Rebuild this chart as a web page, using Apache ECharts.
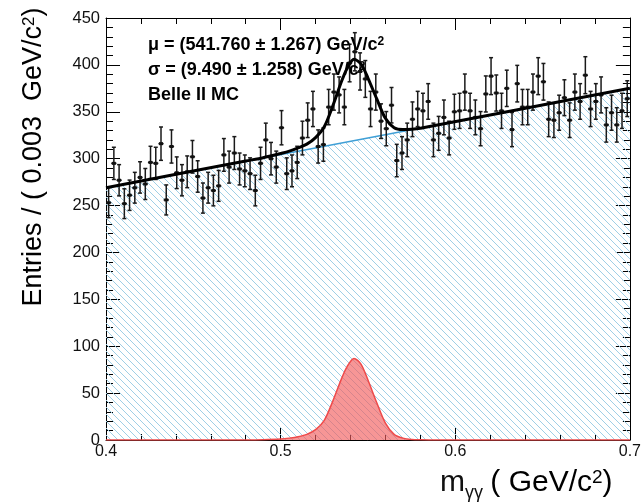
<!DOCTYPE html>
<html><head><meta charset="utf-8">
<script src="https://cdn.jsdelivr.net/npm/echarts@6/dist/echarts.min.js"></script>
<style>html,body{margin:0;padding:0;background:#fff}#c{width:644px;height:502px}</style>
</head><body><div id="c"></div>
<script>
// Histogram: 100 bins of 0.003 GeV/c^2 from 0.4 to 0.7
const binLow = 0.4;
const binWidth = 0.003;
const counts = [
 253,295,277,252,261,269,280,273,296,295,
 316,256,313,285,277,286,302,281,258,269,
 266,271,304,291,306,289,287,284,266,295,
 320,300,291,333,284,287,296,322,341,353,
 313,315,355,371,368,355,402,414,393,385,
 353,371,340,332,357,298,306,320,342,353,
 351,361,320,327,344,322,350,351,371,351,
 344,332,369,388,370,351,375,331,380,355,
 355,371,388,382,342,341,349,365,341,371,
 361,389,353,361,368,336,349,336,351,364
];
// Background (linear) fit line, read at the ends
const bgX = [0.4, 0.7];
const bgY = [269, 375];
// Signal PDF (red)
const sigX = [0.40,0.48,0.49,0.50,0.505,0.51,0.515,0.52,0.525,0.53,0.535,0.538,0.542,0.546,0.55,0.555,0.56,0.565,0.57,0.575,0.58,0.59,0.70];
const sigY = [0,0.1,0.3,1,2,3.5,6,11,21,42,66,78,87,81,64,40,18,6,2,0.6,0.2,0,0];
// Total fit curve (black)
const totX = [0.40,0.48,0.49,0.50,0.505,0.51,0.515,0.52,0.525,0.53,0.535,0.538,0.542,0.546,0.55,0.555,0.56,0.565,0.57,0.575,0.58,0.70];
const totY = [269,297.5,301,305.5,308,311.5,315.5,322.5,334,357,383,396,406,401,386,364,343,333,331,331.4,332.5,375];
const xTickLabels = ['0.4','0.5','0.6','0.7'];
const yTickLabels = ['0','50','100','150','200','250','300','350','400','450'];

function hatchCanvas(){
  const s = 7;
  const c = document.createElement('canvas');
  c.width = s; c.height = s;
  const g = c.getContext('2d');
  g.strokeStyle = '#9fcfe6';
  g.lineWidth = 1;
  g.beginPath();
  g.moveTo(-1,-1); g.lineTo(s+1,s+1);
  g.moveTo(-1,s-1); g.lineTo(1,s+1);
  g.moveTo(s-1,-1); g.lineTo(s+1,1);
  g.stroke();
  return c;
}

const zip = (a,b) => a.map((v,i)=>[v,b[i]]);
const points = counts.map((c,i)=>[binLow + (i+0.5)*binWidth, c, Math.sqrt(c)]);
const FONT = '"Liberation Sans", Arial, Helvetica, sans-serif';

const chart = echarts.init(document.getElementById('c'), null, {renderer:'canvas'});
const axisCommon = {
  axisLine:{show:true, onZero:false, lineStyle:{color:'#000', width:1}},
  splitLine:{show:false}, minorSplitLine:{show:false}
};
const boldRich = {
  a:{fontFamily:FONT, fontWeight:'bold', fontSize:18, color:'#111'},
  s:{fontFamily:FONT, fontWeight:'bold', fontSize:12, color:'#111', verticalAlign:'top'}
};
chart.setOption({
  animation:false,
  backgroundColor:'#fff',
  grid:{left:106, right:14, top:18, bottom:62, containLabel:false},
  xAxis:[
    Object.assign({}, axisCommon, {type:'value', position:'bottom', min:0.4, max:0.7, interval:0.1,
      axisTick:{show:true, inside:true, length:12, lineStyle:{color:'#000'}},
      minorTick:{show:true, splitNumber:5, length:6, lineStyle:{color:'#000'}},
      axisLabel:{show:true, fontSize:16, color:'#111', fontFamily:FONT, margin:4,
        formatter:(v)=>{const s=v.toFixed(1); return xTickLabels.indexOf(s)>=0?s:'';}}}),
    Object.assign({}, axisCommon, {type:'value', position:'top', min:0.4, max:0.7, interval:0.1,
      axisTick:{show:true, inside:true, length:12, lineStyle:{color:'#000'}},
      minorTick:{show:true, splitNumber:5, length:6, lineStyle:{color:'#000'}},
      axisLabel:{show:false}})
  ],
  yAxis:[
    Object.assign({}, axisCommon, {type:'value', position:'left', min:0, max:450, interval:50,
      axisTick:{show:true, inside:true, length:14, lineStyle:{color:'#000'}},
      minorTick:{show:true, splitNumber:5, length:7, lineStyle:{color:'#000'}},
      axisLabel:{show:true, fontSize:16.5, color:'#111', fontFamily:FONT, margin:6,
        formatter:(v)=>{const s=String(Math.round(v)); return yTickLabels.indexOf(s)>=0?s:'';}}}),
    Object.assign({}, axisCommon, {type:'value', position:'right', min:0, max:450, interval:50,
      axisTick:{show:true, inside:true, length:14, lineStyle:{color:'#000'}},
      minorTick:{show:true, splitNumber:5, length:7, lineStyle:{color:'#000'}},
      axisLabel:{show:false}})
  ],
  series:[
    {type:'line', name:'bkg', data:zip(bgX,bgY), showSymbol:false, silent:true, z:1,
      lineStyle:{color:'#3f9fd6', width:1.5},
      areaStyle:{color:{image:hatchCanvas(), repeat:'repeat'}, opacity:1}},
    {type:'line', name:'sig', data:zip(sigX,sigY), showSymbol:false, silent:true, z:2, smooth:0.3,
      lineStyle:{color:'#ee4a4a', width:1.5},
      areaStyle:{color:'rgba(242,92,92,0.92)'}},
    {type:'custom', name:'data', data:points, silent:true, z:3,
      renderItem:(params, api)=>{
        const x = api.value(0), y = api.value(1), e = api.value(2);
        const p = api.coord([x,y]);
        const t = api.coord([x,y+e]), b = api.coord([x,y-e]);
        const l = api.coord([x-binWidth/2,y]), r = api.coord([x+binWidth/2,y]);
        const st = {stroke:'#1a1a1a', lineWidth:1.5};
        return {type:'group', children:[
          {type:'line', shape:{x1:p[0],y1:t[1],x2:p[0],y2:b[1]}, style:st},
          {type:'line', shape:{x1:p[0]-2,y1:t[1],x2:p[0]+2,y2:t[1]}, style:st},
          {type:'line', shape:{x1:p[0]-2,y1:b[1],x2:p[0]+2,y2:b[1]}, style:st},
          {type:'line', shape:{x1:l[0],y1:p[1],x2:r[0],y2:p[1]}, style:st},
          {type:'rect', shape:{x:p[0]-2,y:p[1]-1.5,width:4,height:3}, style:{fill:'#111'}}
        ]};
      }},
    {type:'line', name:'total', data:zip(totX,totY), showSymbol:false, silent:true, z:4, smooth:0.3,
      lineStyle:{color:'#000', width:3}}
  ],
  graphic:[
    {type:'text', x:148, y:45, z:10, style:{text:'{a|μ = (541.760 ± 1.267) GeV/c}{s|2}', rich:boldRich, verticalAlign:'middle'}},
    {type:'text', x:148, y:70, z:10, style:{text:'{a|σ = (9.490 ± 1.258) GeV/c}{s|2}', rich:boldRich, verticalAlign:'middle'}},
    {type:'text', x:148, y:95, z:10, style:{text:'{a|Belle II MC}', rich:boldRich, verticalAlign:'middle'}},
    {type:'text', x:34, y:157, rotation:Math.PI/2, style:{text:'{a|Entries / ( 0.003  GeV/c}{s|2}{a|)}', align:'center', verticalAlign:'middle',
      rich:{a:{fontFamily:FONT, fontSize:27, color:'#111'}, s:{fontFamily:FONT, fontSize:17, color:'#111', verticalAlign:'top'}}}},
    {type:'text', x:440, y:483, style:{text:'m', font:'30px '+FONT, fill:'#111', verticalAlign:'middle'}},
    {type:'text', x:465, y:493, style:{text:'γγ', font:'18px '+FONT, fill:'#111', verticalAlign:'middle'}},
    {type:'text', x:482, y:483, style:{text:'{a| ( GeV/c}{s|2}{a|)}', verticalAlign:'middle',
      rich:{a:{fontFamily:FONT, fontSize:30, color:'#111'}, s:{fontFamily:FONT, fontSize:19, color:'#111', verticalAlign:'top'}}}}
  ]
});
</script>
</body></html>
